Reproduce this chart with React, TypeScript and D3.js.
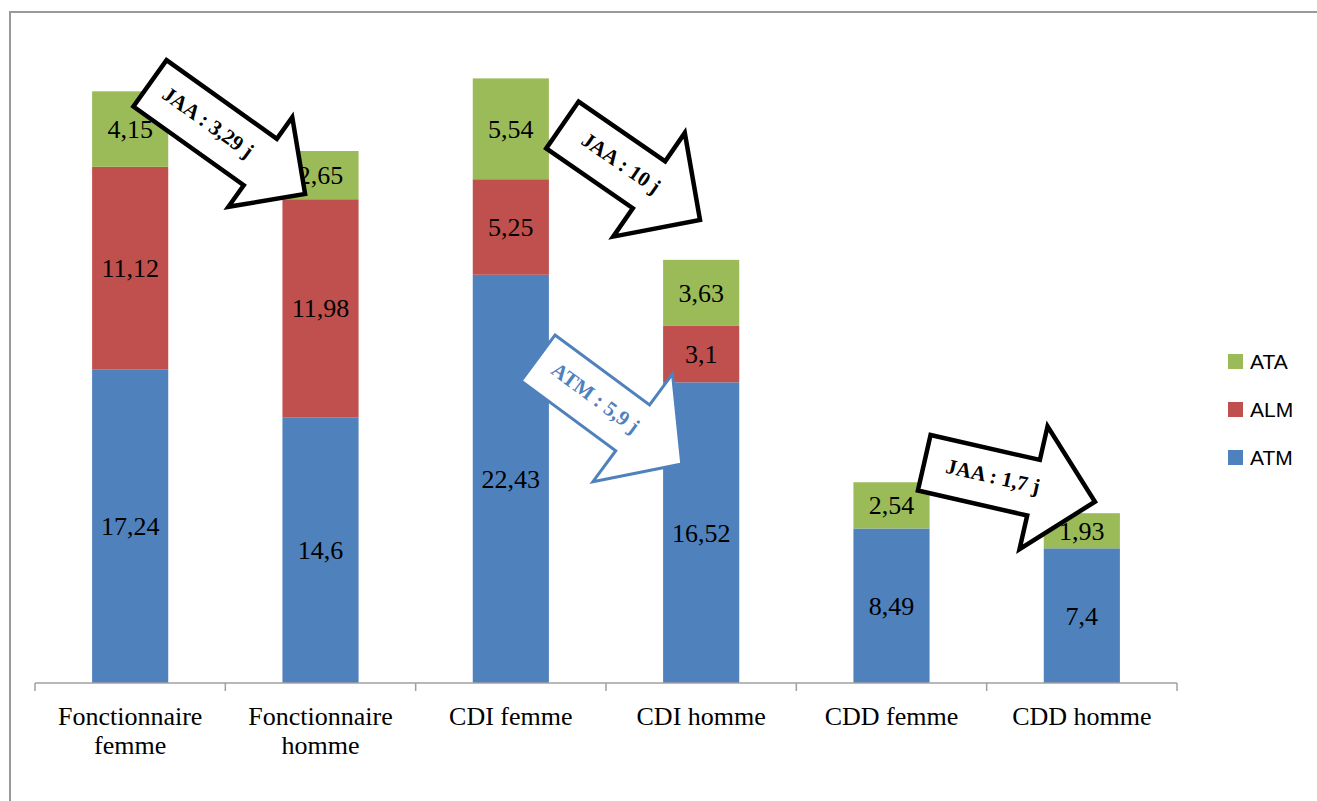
import { scaleBand, scaleLinear } from 'd3'

const categories = [
  ['Fonctionnaire', 'femme'],
  ['Fonctionnaire', 'homme'],
  ['CDI femme'],
  ['CDI homme'],
  ['CDD femme'],
  ['CDD homme'],
]
const atm = [17.24, 14.6, 22.43, 16.52, 8.49, 7.4]
const alm = [11.12, 11.98, 5.25, 3.1, 0, 0]
const ata = [4.15, 2.65, 5.54, 3.63, 2.54, 1.93]

const seriesNames = ['ATM', 'ALM', 'ATA']
const seriesColors = ['#4F81BD', '#C0504D', '#9BBB59']
const seriesValues = [atm, alm, ata]

// arrow annotations: tail / tip in (category index, value) units
const arrowLabels = ['JAA : 3,29 j', 'JAA : 10 j', 'ATM : 5,9 j', 'JAA : 1,7 j']
const arrowTails = [[0.604, 32.95], [2.771, 30.66], [2.643, 17.86], [4.672, 12.1]]
const arrowTips = [[1.419, 26.87], [3.494, 25.44], [3.398, 12.03], [5.569, 9.96]]
const arrowHeadW = [110, 126, 134, 126]
const arrowHeadL = [55, 62, 61, 63]
const arrowColors = ['#000', '#000', '#4F81BD', '#000']

const fmt = (v: number) => String(v).replace('.', ',')

export default function App() {
  const width = 1317
  const height = 801
  const left = 35
  const right = 1177
  const baseY = 683
  const topY = 46

  const x = scaleBand<number>().domain(categories.map((_, i) => i)).range([left, right]).padding(0)
  const xi = scaleLinear().domain([0, categories.length]).range([left, right])
  const y = scaleLinear().domain([0, 35]).range([baseY, topY])
  const bw = x.bandwidth() * 0.4
  const serif = '"Liberation Serif", "Times New Roman", serif'
  const sans = '"Liberation Sans", Arial, sans-serif'

  const stacks = categories.map((_, i) => {
    let acc = 0
    return seriesValues.map((vals, s) => {
      const v = vals[i]
      const y0 = acc
      acc += v
      return { s, v, y0, y1: acc }
    })
  })

  return (
    <svg width={width} height={height} style={{ position: 'absolute', left: 0, top: 0, background: '#fff' }}>
      <rect x={10} y={12} width={1400} height={900} fill="#fff" stroke="#999" strokeWidth={2} />

      {stacks.map((segs, i) =>
        segs.filter((d) => d.v > 0).map((d) => (
          <g key={`${i}-${d.s}`}>
            <rect
              x={(x(i) ?? 0) + (x.bandwidth() - bw) / 2}
              y={y(d.y1)}
              width={bw}
              height={y(d.y0) - y(d.y1)}
              fill={seriesColors[d.s]}
            />
            <text
              x={(x(i) ?? 0) + x.bandwidth() / 2}
              y={(y(d.y0) + y(d.y1)) / 2 + 9}
              textAnchor="middle"
              fontFamily={serif}
              fontSize={26}
              fill="#000"
            >
              {fmt(d.v)}
            </text>
          </g>
        )),
      )}

      <line x1={left} x2={right} y1={baseY} y2={baseY} stroke="#a0a0a0" strokeWidth={1.5} />
      {categories.map((_, i) => (
        <line key={`t${i}`} x1={xi(i)} x2={xi(i)} y1={baseY} y2={baseY + 8} stroke="#a0a0a0" strokeWidth={1.5} />
      ))}
      <line x1={xi(categories.length)} x2={xi(categories.length)} y1={baseY} y2={baseY + 8} stroke="#a0a0a0" strokeWidth={1.5} />

      {categories.map((lines, i) => (
        <text key={`c${i}`} textAnchor="middle" fontFamily={serif} fontSize={26} fill="#000">
          {lines.map((l, k) => (
            <tspan key={k} x={(x(i) ?? 0) + x.bandwidth() / 2} y={725 + k * 29}>
              {l}
            </tspan>
          ))}
        </text>
      ))}

      {seriesNames
        .map((n, s) => ({ n, s }))
        .reverse()
        .map(({ n, s }, k) => (
          <g key={n} transform={`translate(1228, ${354 + k * 48})`}>
            <rect width={15} height={15} fill={seriesColors[s]} />
            <text x={22} y={15} fontFamily={sans} fontSize={21} fill="#000">
              {n}
            </text>
          </g>
        ))}

      {arrowLabels.map((label, a) => {
        const tx = xi(arrowTails[a][0])
        const ty = y(arrowTails[a][1])
        const px = xi(arrowTips[a][0])
        const py = y(arrowTips[a][1])
        const len = Math.hypot(px - tx, py - ty)
        const ang = (Math.atan2(py - ty, px - tx) * 180) / Math.PI
        const sw = 57
        const hw = arrowHeadW[a]
        const hl = arrowHeadL[a]
        const pts = [
          [0, -sw / 2],
          [len - hl, -sw / 2],
          [len - hl, -hw / 2],
          [len, 0],
          [len - hl, hw / 2],
          [len - hl, sw / 2],
          [0, sw / 2],
        ]
        const isBlue = arrowColors[a] !== '#000'
        return (
          <g key={label} transform={`translate(${tx},${ty}) rotate(${ang})`}>
            <polygon
              points={pts.map((p) => p.join(',')).join(' ')}
              fill="#fff"
              stroke={arrowColors[a]}
              strokeWidth={isBlue ? 3 : 4.5}
              strokeLinejoin="miter"
            />
            <text
              x={70}
              y={-2}
              textAnchor="middle"
              dominantBaseline="central"
              fontFamily={serif}
              fontWeight="bold"
              fontSize={21}
              fill={arrowColors[a]}
            >
              {label}
            </text>
          </g>
        )
      })}
    </svg>
  )
}
